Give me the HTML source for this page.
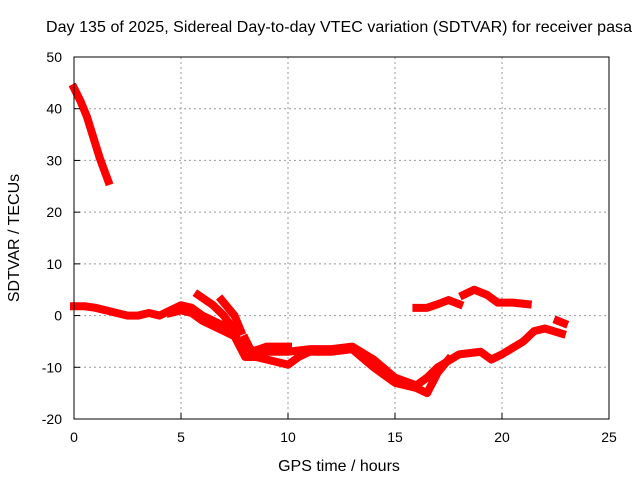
<!DOCTYPE html>
<html><head><meta charset="utf-8"><style>body{margin:0;background:#fff}svg{display:block;font-family:"Liberation Sans",sans-serif}</style></head>
<body>
<svg id="chart" width="640" height="480">
<text x="339" y="32" font-size="16" text-anchor="middle" textLength="586">Day 135 of 2025, Sidereal Day-to-day VTEC variation (SDTVAR) for receiver pasa</text>
<g id="grid"></g>
<g id="series"></g>
<rect x="74" y="57" width="535" height="362" fill="none" stroke="#000"/>
<g id="ticks"></g>
<text x="339" y="471" font-size="16" text-anchor="middle">GPS time / hours</text>
<text transform="translate(19,238) rotate(-90)" font-size="16" text-anchor="middle">SDTVAR / TECUs</text>
</svg>
<script>
const xTicks=[0,5,10,15,20,25];
const yTicks=[-20,-10,0,10,20,30,40,50];
const seriesEarly=[[0,44],[0.3,41.5],[0.6,38.5],[0.9,34.5],[1.2,30.5],[1.6,26]];
const seriesMain=[[0,1.8],[0.5,1.8],[1,1.5],[1.5,1],[2,0.5],[2.5,0],[3,0],[3.5,0.5],[4,0],[4.5,1],[5,2],[5.5,1.5],[6,0],[6.5,-1],[7,-2],[7.5,-4],[8,-6],[8.5,-7],[9,-7],[10,-7],[11,-6.5],[12,-6.5],[13,-6],[14,-8.5],[15,-12],[16,-13.5],[16.5,-12],[17,-10],[18,-7.5],[19,-7],[19.5,-8.5],[20,-7.5],[21,-5],[21.5,-3],[22,-2.5],[22.8,-3.5]];
const seriesLow=[[4.5,0.5],[5,1],[5.5,0.5],[6,-1],[6.5,-2],[7,-3],[7.5,-4],[8,-8],[8.5,-8],[9,-8.5],[10,-9.5],[10.5,-8],[11,-7],[12,-7],[13,-6.5],[14,-10],[15,-13],[16,-14],[16.5,-15],[17,-11],[17.5,-8.5]];
const seriesBranch1=[[5.8,4],[6.5,2],[7,0],[7.5,-3]];
const seriesBranch2=[[6.9,3],[7.5,0],[7.8,-3]];
const seriesMid=[[8,-4.5],[8.3,-7],[9,-6],[10,-6]];
const seriesGap1=[[16,1.5],[16.5,1.5],[17,2.2],[17.5,3],[18,2.2]];
const seriesGap2=[[18.2,4],[18.7,5],[19.3,4],[19.8,2.5],[20.5,2.5],[21.2,2.2]];
const seriesEnd=[[22.6,-1],[22.9,-1.5]];
const allSeries=[seriesEarly,seriesMain,seriesLow,seriesBranch1,seriesBranch2,seriesMid,seriesGap1,seriesGap2,seriesEnd];
const NS="http://www.w3.org/2000/svg";
const X=h=>74+h*535/25, Y=v=>57+(50-v)*362/70;
function mk(t,a,p){const e=document.createElementNS(NS,t);for(const k in a)e.setAttribute(k,a[k]);p.appendChild(e);return e;}
const grid=document.getElementById('grid'),ticks=document.getElementById('ticks'),ser=document.getElementById('series');
xTicks.forEach(t=>{const x=X(t);
 if(t>0&&t<25){const l=mk('line',{x1:x,x2:x,y1:57,y2:419,stroke:'#999','stroke-dasharray':'2,3'},grid);}
 const tk=mk('line',{x1:x,x2:x,y1:419,y2:413,stroke:'#000'},ticks);
 const tx=mk('text',{x:x,y:442,'font-size':14,'text-anchor':'middle'},ticks);tx.textContent=t;});
yTicks.forEach(t=>{const y=Y(t);
 if(t>-20&&t<50){const l=mk('line',{x1:74,x2:609,y1:y,y2:y,stroke:'#999','stroke-dasharray':'2,3'},grid);}
 const tk=mk('line',{x1:74,x2:80,y1:y,y2:y,stroke:'#000'},ticks);
 const tx=mk('text',{x:62,y:y+5,'font-size':14,'text-anchor':'end'},ticks);tx.textContent=t;});
allSeries.forEach(s=>{
 const p=mk('polyline',{points:s.map(d=>X(d[0])+','+Y(d[1])).join(' '),fill:'none',stroke:'#f00','stroke-width':8,'stroke-linejoin':'round','stroke-linecap':'square'},ser);
 
 
});
</script>
</body></html>
